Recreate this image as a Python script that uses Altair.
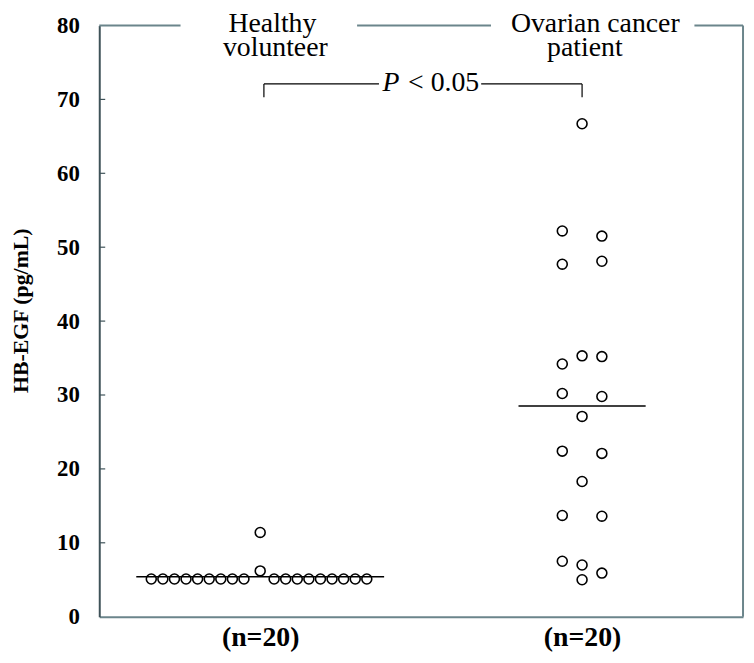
import altair as alt
import pandas as pd

# ---------------- data ----------------
group_names = ["Healthy volunteer", "Ovarian cancer patient"]
group_pos = [1, 3]
header_line1 = ["Healthy", "Ovarian cancer"]
header_line2 = ["volunteer", "patient"]
n_labels = ["(n=20)", "(n=20)"]

healthy_values = [5.1, 5.1, 5.1, 5.1, 5.1, 5.1, 5.1, 5.1, 5.1,
                  6.2, 11.4,
                  5.1, 5.1, 5.1, 5.1, 5.1, 5.1, 5.1, 5.1, 5.1]
healthy_cols = [-9.4, -8.4, -7.4, -6.4, -5.4, -4.4, -3.4, -2.4, -1.4,
                0, 0,
                1.2, 2.2, 3.2, 4.2, 5.2, 6.2, 7.2, 8.2, 9.2]

ovarian_values = [66.7, 52.2, 51.5, 47.7, 48.1, 34.2, 35.3, 35.2, 30.2, 29.8,
                  27.1, 22.4, 22.1, 18.3, 13.7, 13.6, 7.5, 7.0, 5.0, 5.9]
ovarian_cols = [0, -1, 1, -1, 1, -1, 0, 1, -1, 1,
                0, -1, 1, 0, -1, 1, -1, 0, 0, 1]

medians = [5.4, 28.5]
p_text = ["P", "< 0.05"]
y_ticks = [0, 10, 20, 30, 40, 50, 60, 70, 80]

# ---------------- layout / style ----------------
W, H = 649, 596
XDOM = [0, 4]
YDOM = [0, 80]
healthy_step = 0.072
ovarian_step = 0.123
median_half = [0.77, 0.395]
FONT = "Liberation Serif"
BORDER = "#6b858b"
AXISC = "#3e5258"

pts = pd.DataFrame({
    "x": [group_pos[0] + c * healthy_step for c in healthy_cols]
       + [group_pos[1] + c * ovarian_step for c in ovarian_cols],
    "y": healthy_values + ovarian_values,
    "group": [group_names[0]] * len(healthy_values) + [group_names[1]] * len(ovarian_values),
})

med = pd.DataFrame({
    "x": [p - h for p, h in zip(group_pos, median_half)],
    "x2": [p + h for p, h in zip(group_pos, median_half)],
    "y": medians,
})

xs = alt.Scale(domain=XDOM, nice=False, zero=False)
ys = alt.Scale(domain=YDOM, nice=False, zero=False)

label_expr = "[" + ",".join("'" + s + "'" for s in n_labels) + "][datum.value == %d ? 0 : 1]" % group_pos[0]

XQ = alt.X("x:Q", scale=xs)
YQ = alt.Y("y:Q", scale=ys)

points = alt.Chart(pts).mark_point(
    shape="circle", filled=False, size=100, color="black", strokeWidth=1.6, opacity=1
).encode(
    x=alt.X("x:Q", scale=xs, title=" ",
            axis=alt.Axis(values=group_pos, labelExpr=label_expr, ticks=False, grid=False,
                          domainColor=BORDER, domainWidth=2, labelFont=FONT, labelFontSize=28,
                          labelFontWeight="bold", labelColor="black", labelBaseline="top",
                          labelPadding=7, titleFontSize=1, titleOpacity=0)),
    y=alt.Y("y:Q", scale=ys, title="HB-EGF (pg/mL)",
            axis=alt.Axis(values=y_ticks, ticks=False, grid=False, domainColor=AXISC,
                          domainWidth=2, labelFont=FONT, labelFontSize=23, labelFontWeight="bold",
                          labelColor="black", labelPadding=20, titleFont=FONT, titleFontSize=22,
                          titleFontWeight="bold", titleColor="black", titleX=-79, titleY=287,
                          titleAngle=270, titleAlign="center", titleBaseline="middle")),
)

median_layer = alt.Chart(med).mark_rule(color="black", strokeWidth=1.5).encode(
    x=XQ, x2="x2:Q", y=YQ,
)

# inward ticks on y axis
tick_df = pd.DataFrame({"y": y_ticks[1:-1]})
ticks = alt.Chart(tick_df).mark_rule(color=AXISC, strokeWidth=1.2).encode(
    y=YQ, x=alt.value(0), x2=alt.value(6),
)

# top border with gaps for headers, and right border
top_segs = pd.DataFrame({"x": [0, 1.602, 3.698], "x2": [0.505, 2.434, 4], "y": [80, 80, 80]})
top_border = alt.Chart(top_segs).mark_rule(color=BORDER, strokeWidth=2).encode(
    x=XQ, x2="x2:Q", y=YQ,
)
right_df = pd.DataFrame({"x": [XDOM[1]], "y": [YDOM[0]], "y2": [YDOM[1]]})
right_border = alt.Chart(right_df).mark_rule(color=BORDER, strokeWidth=2).encode(
    x=XQ, y=YQ, y2="y2:Q",
)

# headers
h1 = pd.DataFrame({"x": [1.076, 3.082], "t": header_line1})
h2 = pd.DataFrame({"x": [1.094, 3.017], "t": header_line2})
head1 = alt.Chart(h1).mark_text(font=FONT, fontSize=28, color="black", baseline="alphabetic").encode(
    x=XQ, y=alt.value(7), text="t:N")
head2 = alt.Chart(h2).mark_text(font=FONT, fontSize=28, color="black", baseline="alphabetic").encode(
    x=XQ, y=alt.value(31), text="t:N")

# significance bracket
BR_Y, BR_DROP = 72.1, 70.3
br_h = pd.DataFrame({"x": [1.023, 2.373], "x2": [1.738, 3.0], "y": [BR_Y, BR_Y]})
br_v = pd.DataFrame({"x": [1.023, 3.0], "y": [BR_DROP, BR_DROP], "y2": [BR_Y, BR_Y]})
bracket_h = alt.Chart(br_h).mark_rule(color="black", strokeWidth=1.2).encode(
    x=XQ, x2="x2:Q", y=YQ)
bracket_v = alt.Chart(br_v).mark_rule(color="black", strokeWidth=1.2).encode(
    x=XQ, y=YQ, y2="y2:Q")

pdf1 = pd.DataFrame({"x": [1.760], "y": [BR_Y], "t": [p_text[0]]})
pdf2 = pd.DataFrame({"x": [2.361], "y": [BR_Y], "t": [p_text[1]]})
ptxt1 = alt.Chart(pdf1).mark_text(font=FONT, fontSize=28, fontStyle="italic", color="black",
                                  align="left", baseline="alphabetic", dy=7).encode(
    x=XQ, y=YQ, text="t:N")
ptxt2 = alt.Chart(pdf2).mark_text(font=FONT, fontSize=28, color="black",
                                  align="right", baseline="alphabetic", dy=7).encode(
    x=XQ, y=YQ, text="t:N")

chart = alt.layer(
    points, median_layer, ticks, top_border, right_border, head1, head2,
    bracket_h, bracket_v, ptxt1, ptxt2
).properties(
    width=W, height=H,
    autosize=alt.AutoSizeParams(type="none"),
    padding={"left": 92, "top": 15, "right": 3, "bottom": 40},
    background="white",
).configure_view(strokeWidth=0)

chart.save("out.html", embed_options={"renderer": "svg", "actions": False})
